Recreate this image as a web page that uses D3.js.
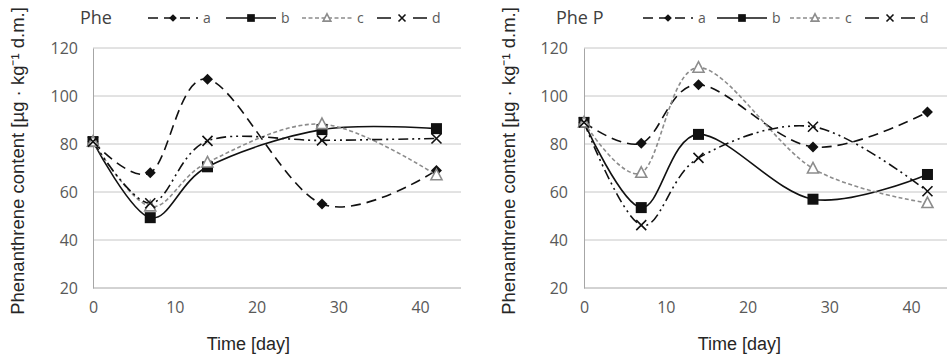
<!DOCTYPE html>
<html><head><meta charset="utf-8">
<script src="https://cdn.jsdelivr.net/npm/d3@7"></script>
<style>body{margin:0;background:#fff}svg{display:block}</style>
</head><body>
<svg id="c" width="947" height="358"></svg>
<script>
const days = [0, 7, 14, 28, 42];
const seriesNames = ["a", "b", "c", "d"];
const xTicks = [0, 10, 20, 30, 40];
const yTicks = [20, 40, 60, 80, 100, 120];
const panelTitles = ["Phe", "Phe P"];
const yTitle = "Phenanthrene content [µg · kg⁻¹ d.m.]";
const xTitle = "Time [day]";

// Phe
const pheA = [81, 68, 107, 55, 69];
const pheB = [81, 49.3, 70.5, 86, 86.4];
const pheC = [81, 54, 72.3, 88.3, 67];
const pheD = [81, 55.3, 81.3, 81.5, 82.3];
// Phe P
const phePA = [89, 80.3, 104.7, 78.8, 93.3];
const phePB = [89, 53.5, 84, 57, 67.3];
const phePC = [89, 68, 111.8, 69.8, 55.4];
const phePD = [89, 46.2, 74.2, 87.2, 60.3];

const panels = [
  {title: panelTitles[0], series: [pheA, pheB, pheC, pheD], x0: 93, x1: 461, axisX: 18, labelEnd: 78, titleX: 80, legendX: [148, 226, 302, 377]},
  {title: panelTitles[1], series: [phePA, phePB, phePC, phePD], x0: 584, x1: 952, axisX: 509, labelEnd: 568, titleX: 556, legendX: [643, 717, 790, 865]}
];

const styles = [
  {stroke: "#111", dash: "10,6", width: 1.6, marker: "diamond"},
  {stroke: "#111", dash: null, width: 1.6, marker: "square"},
  {stroke: "#8c8c8c", dash: "4,2.5", width: 1.6, marker: "triangle"},
  {stroke: "#111", dash: "10,4,2,4,2,4", width: 1.6, marker: "cross"}
];

const svg = d3.select("#c");
const tickFont = "'Open Sans', 'Liberation Sans', sans-serif";
const yScale = d3.scaleLinear().domain([20, 120]).range([288, 48]);

function drawMarker(g, type, cx, cy, s) {
  if (type === "diamond") {
    const r = 5.5 * s;
    g.append("path").attr("d", `M${cx},${cy - r}L${cx + r},${cy}L${cx},${cy + r}L${cx - r},${cy}Z`).attr("fill", "#111");
  } else if (type === "square") {
    g.append("rect").attr("x", cx - 5.5 * s).attr("y", cy - 5.5 * s).attr("width", 11 * s).attr("height", 11 * s).attr("fill", "#111");
  } else if (type === "triangle") {
    g.append("path").attr("d", `M${cx},${cy - 6 * s}L${cx + 5.5 * s},${cy + 4.5 * s}L${cx - 5.5 * s},${cy + 4.5 * s}Z`)
      .attr("fill", "#fff").attr("stroke", "#8c8c8c").attr("stroke-width", 1.6);
  } else if (type === "cross") {
    const r = 5 * s;
    g.append("path").attr("d", `M${cx - r},${cy - r}L${cx + r},${cy + r}M${cx - r},${cy + r}L${cx + r},${cy - r}`)
      .attr("stroke", "#111").attr("stroke-width", 1.6).attr("fill", "none");
  }
}

panels.forEach(p => {
  const x = d3.scaleLinear().domain([0, 45]).range([p.x0, p.x1]);
  const g = svg.append("g");

  g.selectAll(".grid").data(yTicks.filter(t => t > 20)).enter().append("line")
    .attr("x1", p.x0).attr("x2", p.x1).attr("y1", d => yScale(d)).attr("y2", d => yScale(d))
    .attr("stroke", "#c6c6c6").attr("stroke-width", 1);

  const yAxis = d3.axisLeft(yScale).tickValues(yTicks).tickSize(0).tickPadding(p.x0 - p.labelEnd);
  const ya = g.append("g").attr("transform", `translate(${p.x0},0)`).call(yAxis);
  ya.select(".domain").attr("stroke", "#a6a6a6");
  ya.selectAll("text").attr("font-family", tickFont).attr("font-size", 16).attr("fill", "#595959");

  const xAxis = d3.axisBottom(x).tickValues(xTicks).tickSize(0).tickPadding(14);
  const xa = g.append("g").attr("transform", `translate(0,${yScale(20)})`).call(xAxis);
  xa.select(".domain").attr("stroke", "#a6a6a6").attr("d", `M${p.x0},0H${p.x1}`);
  xa.selectAll("text").attr("font-family", tickFont).attr("font-size", 16).attr("fill", "#595959");

  const line = d3.line().x((d, i) => x(days[i])).y(d => yScale(d)).curve(d3.curveCardinal.tension(0));
  p.series.forEach((vals, si) => {
    const st = styles[si];
    g.append("path").datum(vals).attr("d", line).attr("fill", "none")
      .attr("stroke", st.stroke).attr("stroke-width", st.width)
      .attr("stroke-dasharray", st.dash);
  });
  p.series.forEach((vals, si) => {
    const st = styles[si];
    const mg = g.append("g");
    vals.forEach((v, i) => drawMarker(mg, st.marker, x(days[i]), yScale(v), 1));
  });

  g.append("text").attr("x", p.titleX).attr("y", 24).text(p.title)
    .attr("font-family", tickFont).attr("font-size", 18).attr("fill", "#404040");

  seriesNames.forEach((n, si) => {
    const st = styles[si];
    const lx = p.legendX[si];
    const ly = 18;
    g.append("line").attr("x1", lx).attr("x2", lx + 50).attr("y1", ly).attr("y2", ly)
      .attr("stroke", st.stroke).attr("stroke-width", st.width)
      .attr("stroke-dasharray", st.marker === "diamond" ? "10,6" : st.marker === "cross" ? "14,22" : st.dash);
    const lg = g.append("g");
    drawMarker(lg, st.marker, lx + 25, ly, 0.7);
    g.append("text").attr("x", lx + 55).attr("y", ly + 5).text(n)
      .attr("font-family", tickFont).attr("font-size", 14).attr("fill", "#595959");
  });

  g.append("text").attr("transform", `translate(${p.axisX},161) rotate(-90)`).attr("text-anchor", "middle")
    .attr("dy", "0.35em").text(yTitle)
    .attr("font-family", "'Liberation Sans', Arial, sans-serif").attr("font-size", 18.5).attr("fill", "#262626");
  g.append("text").attr("x", x(19)).attr("y", 350).attr("text-anchor", "middle").text(xTitle)
    .attr("font-family", "'Liberation Sans', Arial, sans-serif").attr("font-size", 18).attr("fill", "#262626");
});
</script>
</body></html>
